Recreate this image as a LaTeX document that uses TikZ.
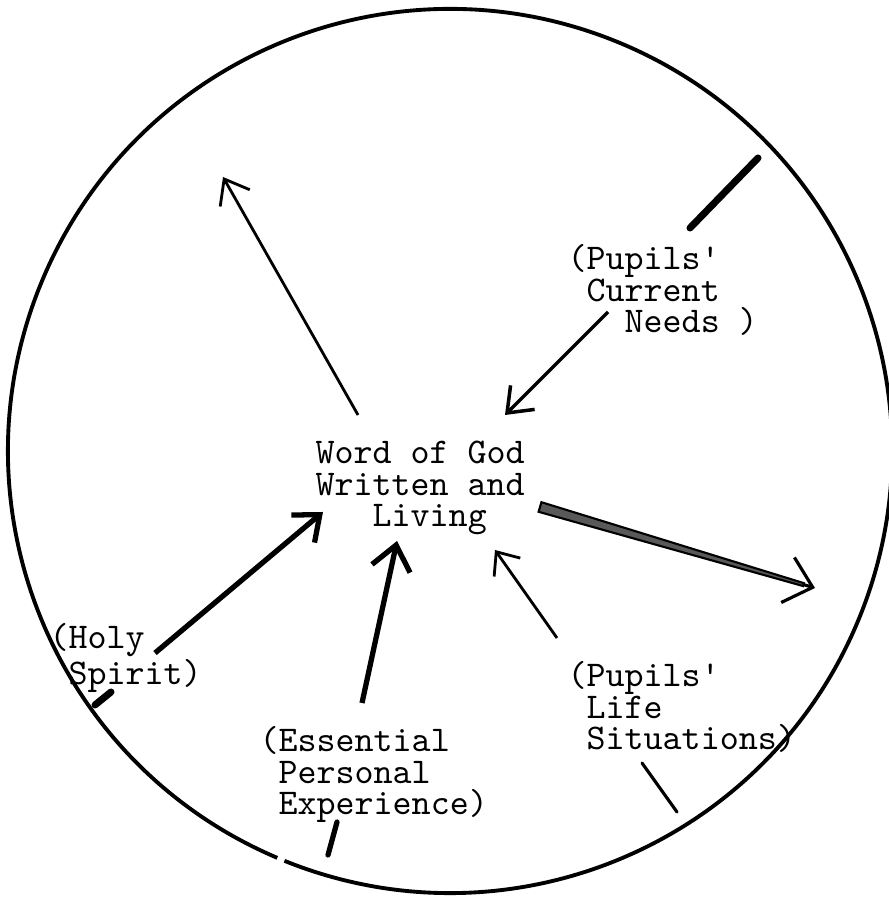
\documentclass[tikz,border=0pt]{standalone}
\usepackage{tikz}
\usetikzlibrary{arrows.meta, calc}

\tikzset{
  typed/.style={font=\fontsize{10.3}{9.1}\selectfont\ttfamily, align=left, inner sep=0pt, anchor=base west},
  pull/.style={line width=0.8pt, -{Straight Barb[length=2.2mm, width=3.4mm]}},
  heavy/.style={line width=1.5pt, -{Straight Barb[length=2.2mm, width=3.6mm]}},
  stub/.style={line width=1.5pt, line cap=round},
}

\begin{document}
\begin{tikzpicture}
    \useasboundingbox (0,0) rectangle (8.88,9.01);

    % Outer circle, left open for a moment at the bottom
    \draw[line width=1.1pt] (4.50,4.50) ++(248:4.42) arc[start angle=248, end angle=607, radius=4.42];

    % Centre text (placed by the baseline of its last line)
    \node[typed] (word) at (3.15,3.74) {Word of God\\Written and\\\ \ \ Living};

    % Labels round the centre
    \node[typed] (needs) at (5.67,5.68) {(Pupils'\\\ Current\\\ \ \ Needs )};
    \node[typed] (spirit) at (0.49,2.16) {(Holy\\\ Spirit)};
    \node[typed] (experience) at (2.59,0.86) {(Essential\\\ Personal\\\ Experience)};
    \node[typed] (life) at (5.67,1.51) {(Pupils'\\\ Life\\\ Situations)};

    % Free ends of the arrows
    \coordinate (outfoot) at (3.58,4.86);
    \coordinate (outtip) at (2.23,7.24);
    \coordinate (needsfoot) at (6.08,5.89);
    \coordinate (needstip) at (5.05,4.86);
    \coordinate (needstop) at (7.58,7.43);
    \coordinate (needsend) at (6.90,6.73);
    \coordinate (sendfoot) at (5.40,3.94);
    \coordinate (sendtip) at (8.15,3.13);
    \coordinate (sendneck) at ($(sendtip)!0.12cm!(sendfoot)$);
    \coordinate (spiritfoot) at (1.55,2.48);
    \coordinate (spirittip) at (3.23,3.89);
    \coordinate (spiritlow) at (0.95,1.96);
    \coordinate (spiritend) at (1.11,2.09);
    \coordinate (expfoot) at (3.62,1.98);
    \coordinate (exptip) at (3.97,3.60);
    \coordinate (explow) at (3.28,0.46);
    \coordinate (expend) at (3.37,0.79);
    \coordinate (lifefoot) at (5.57,2.63);
    \coordinate (lifetip) at (4.95,3.51);
    \coordinate (lifelow) at (6.77,0.89);
    \coordinate (lifeend) at (6.42,1.38);

    % Arrows into and out of the Word
    \draw[pull] (outfoot) -- (outtip);
    \draw[pull, line width=1pt] (needsfoot) -- (needstip);
    \draw[heavy] (spiritfoot) -- (spirittip);
    \draw[heavy, -{Straight Barb[length=2.4mm, width=3.9mm]}] (expfoot) -- (exptip);
    \draw[pull, -{Straight Barb[length=1.9mm, width=3.2mm]}] (lifefoot) -- (lifetip);

    % Broken-off stubs near the rim
    \draw[stub, line width=2pt] (needstop) -- (needsend);
    \draw[stub, line width=2pt] (spiritlow) -- (spiritend);
    \draw[stub] (explow) -- (expend);
    \draw[stub, line width=0.9pt] (lifelow) -- (lifeend);

    % Shaded arrow out to the rim
    \fill[black!65, draw=black, line width=0.6pt]
        ($(sendfoot)!0.05cm!90:(sendtip)$) -- ($(sendneck)!0.015cm!90:(sendtip)$)
        -- ($(sendneck)!0.015cm!-90:(sendtip)$) -- ($(sendfoot)!0.05cm!-90:(sendtip)$) -- cycle;
    \draw[line width=0.9pt, -{Straight Barb[length=2.6mm, width=4.7mm]}] (sendneck) -- (sendtip);

\end{tikzpicture}
\end{document}
